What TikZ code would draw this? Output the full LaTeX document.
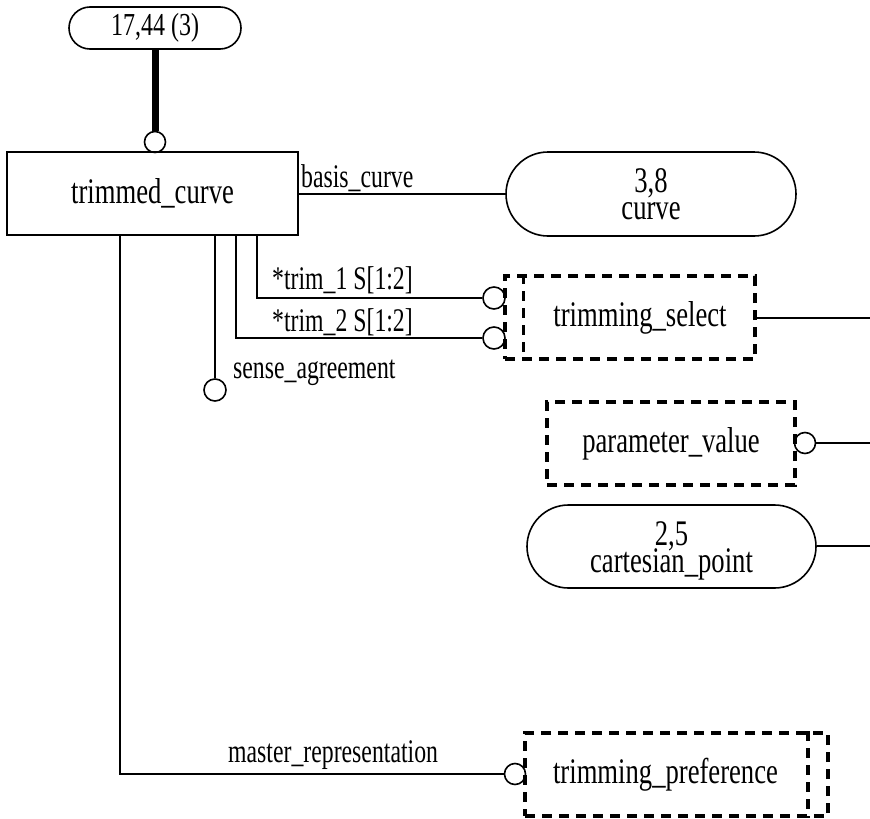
\documentclass[tikz,border=0pt]{standalone}
\usepackage{fontspec}
\usepackage{graphicx}
\setmainfont{Liberation Serif}
\usetikzlibrary{shapes.misc}
\newcommand{\mytxt}[1]{\scalebox{0.74}[1]{#1}}
\newcommand{\mylbl}[1]{\scalebox{0.72}[1]{#1}}
\begin{document}
\begin{tikzpicture}[x=1pt,y=-1pt,
  every node/.style={font=\fontsize{36}{27}\selectfont},
  pill/.style={draw,line width=1.6pt,rounded rectangle,inner sep=0pt,align=center},
  entbox/.style={draw,line width=1.6pt,rectangle,inner sep=0pt},
  selbox/.style={draw,line width=3.5pt,dash pattern=on 10pt off 7pt,rectangle,inner sep=0pt},
  selline/.style={line width=3.5pt,dash pattern=on 10pt off 7pt},
  conn/.style={line width=1.6pt},
  circ/.style={draw,circle,line width=1.6pt,fill=white,inner sep=0pt,minimum size=#1},
  circ/.default=21pt,
  pline/.style={inner sep=0pt,anchor=base},
  lbl/.style={font=\fontsize{33}{33}\selectfont,inner sep=0pt,anchor=base west}]
\useasboundingbox (0,0) rectangle (870,819);

% circles (drawn first so box borders lie over them)
\node[circ] (ctop) at (155,142) {};
\node[circ=22pt] (c1) at (494,298) {};
\node[circ=22pt] (c2) at (494,338) {};
\node[circ=22pt] (csa) at (215,390) {};
\node[circ] (cmr) at (515,774) {};
\node[circ] (cpv) at (805,443) {};

% nodes
\node[pill,minimum width=172pt,minimum height=42pt,font=\fontsize{32}{32}\selectfont] (top) at (155,28) {\scalebox{0.75}[1]{17,44 (3)}};
\node[entbox,minimum width=291pt,minimum height=83pt] (tc) at (152.5,193.5) {\mytxt{trimmed\_curve}};
\node[pill,minimum width=290pt,minimum height=84pt] (curve) at (651,194) {};
\node[pline] (curveA) at (651,192) {\mytxt{3,8}};
\node[pline] (curveB) at (651,219) {\mytxt{curve}};
\node[selbox,minimum width=250pt,minimum height=83pt] (ts) at (630,317.5) {};
\node (tstext) at (640,318) {\mytxt{trimming\_select}};
\node[selbox,minimum width=248pt,minimum height=83pt] (pv) at (671,443.5) {\mytxt{parameter\_value}};
\node[pill,minimum width=289pt,minimum height=83pt] (cp) at (671.5,546.5) {};
\node[pline] (cpA) at (671.5,545) {\mytxt{2,5}};
\node[pline] (cpB) at (671.5,572) {\mytxt{cartesian\_point}};
\node[selbox,minimum width=303pt,minimum height=83pt] (tp) at (676.5,774.5) {};
\node (tptext) at (665.5,775) {\mytxt{trimming\_preference}};

% inner dashed lines
\draw[selline] ([xshift=20pt]ts.north west) -- ([xshift=20pt]ts.south west);
\draw[selline] ([xshift=-22pt]tp.north east) -- ([xshift=-22pt]tp.south east);

% coordinates
\coordinate (b1) at (257,235);
\coordinate (b2) at (236,235);
\coordinate (b3) at (215,235);
\coordinate (b4) at (120,235);
\coordinate (e1) at (870,318);
\coordinate (e2) at (870,443);
\coordinate (e3) at (870,546);

% connectors
\draw[line width=7pt] (top.south) -- (ctop.north);
\draw[conn] (tc.east |- curve.west) -- (curve.west);
\draw[conn] (b1) |- (c1.west);
\draw[conn] (b2) |- (c2.west);
\draw[conn] (b3) -- (csa.north);
\draw[conn] (b4) |- (cmr.west);
\draw[conn] (ts.east |- e1) -- (e1);
\draw[conn] (cpv.east) -- (e2);
\draw[conn] (cp.east |- e3) -- (e3);

% labels
\node[lbl] (lbc) at (301,187) {\mylbl{basis\_curve}};
\node[lbl] (lt1) at (272,289) {\mylbl{*trim\_1 S[1:2]}};
\node[lbl] (lt2) at (272,331) {\mylbl{*trim\_2 S[1:2]}};
\node[lbl] (lsa) at (233,378) {\mylbl{sense\_agreement}};
\node[lbl] (lmr) at (228,762) {\mylbl{master\_representation}};
\end{tikzpicture}
\end{document}
